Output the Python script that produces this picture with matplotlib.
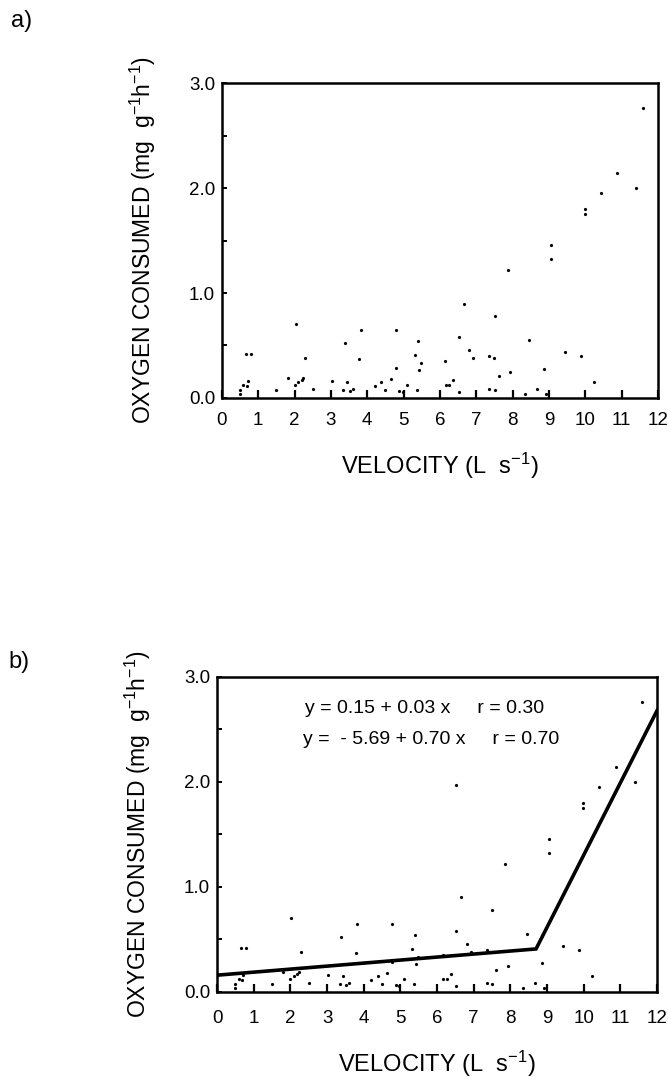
import numpy as np
import matplotlib
matplotlib.use("Agg")
import matplotlib.pyplot as plt
from matplotlib.ticker import MultipleLocator

plt.rcParams['font.family'] = ['Liberation Sans', 'DejaVu Sans']
plt.rcParams['mathtext.fontset'] = 'custom'
plt.rcParams['mathtext.rm'] = 'Liberation Sans'
plt.rcParams['mathtext.it'] = 'Liberation Sans:italic'
plt.rcParams['mathtext.bf'] = 'Liberation Sans:bold'

# swimming velocity (L/s) vs oxygen consumed
velocity = [0.50, 0.50, 0.59, 0.68, 0.72, 0.65, 0.79, 1.49, 1.81, 2.00,
            2.10, 2.19, 2.24, 2.03, 2.29, 2.51, 3.02, 3.34, 3.43, 3.52,
            3.61, 3.39, 3.78, 3.83, 4.21, 4.38, 4.49, 4.64, 4.78, 4.78,
            4.88, 4.97, 5.10, 5.32, 5.39, 5.43, 5.49, 5.38, 6.15, 6.16,
            6.26, 6.37, 6.53, 6.52, 6.65, 6.81, 6.92, 7.35, 7.35, 7.50,
            7.51, 7.51, 7.62, 7.86, 7.94, 8.34, 8.45, 8.66, 8.87, 8.91,
            9.06, 9.06, 9.44, 9.87, 9.99, 9.99, 10.23, 10.43, 10.87, 11.39,
            11.60]
oxygen = [0.08, 0.04, 0.12, 0.11, 0.16, 0.42, 0.42, 0.08, 0.19, 0.12,
          0.15, 0.17, 0.19, 0.70, 0.38, 0.09, 0.16, 0.08, 0.15, 0.07,
          0.09, 0.52, 0.37, 0.65, 0.11, 0.15, 0.08, 0.18, 0.29, 0.65,
          0.07, 0.06, 0.12, 0.41, 0.54, 0.27, 0.33, 0.08, 0.35, 0.12,
          0.12, 0.17, 0.06, 0.58, 0.90, 0.46, 0.38, 0.09, 0.40, 0.38,
          0.78, 0.08, 0.21, 1.22, 0.25, 0.04, 0.55, 0.09, 0.28, 0.04,
          1.46, 1.32, 0.44, 0.40, 1.80, 1.75, 0.15, 1.95, 2.14, 2.00,
          2.76]

# one point only shows up in panel b
velocity_b_extra = [6.52]
oxygen_b_extra = [1.97]

# broken-stick fit drawn in panel b (vertices)
fit_x = [0.0, 8.7, 12.0]
fit_y = [0.16, 0.41, 2.68]

eq_text = ["y = 0.15 + 0.03 x     r = 0.30",
           "y =  - 5.69 + 0.70 x     r = 0.70"]

xticks = np.arange(0, 13, 1)
yticks = [0.0, 1.0, 2.0, 3.0]
ytick_labels = ["0.0", "1.0", "2.0", "3.0"]

fig = plt.figure(figsize=(6.68, 10.78), dpi=100)
ax_a = fig.add_axes([0.3323, 0.6308, 0.6527, 0.2922])
ax_b = fig.add_axes([0.3249, 0.0798, 0.6587, 0.2922])


def style_axes(ax, xpad):
    ax.set_xlim(0, 12)
    ax.set_ylim(0, 3)
    ax.set_xticks(xticks)
    ax.set_xticklabels([str(t) for t in xticks])
    ax.set_yticks(yticks)
    ax.set_yticklabels(ytick_labels)
    ax.yaxis.set_minor_locator(MultipleLocator(0.5))
    ax.tick_params(axis='x', direction='in', length=6, width=1.6,
                   labelsize=13.5, pad=xpad, top=False)
    ax.tick_params(axis='y', which='both', direction='in', length=3.5,
                   width=1.4, labelsize=13.5, pad=5, right=False)
    for sp in ax.spines.values():
        sp.set_linewidth(1.8)
    ax.set_xlabel("VELOCITY (L  s$^{-1}$)", fontsize=17, labelpad=16)
    ax.set_ylabel("OXYGEN CONSUMED (mg  g$^{-1}$h$^{-1}$)", fontsize=16.5,
                  labelpad=22)


ax_a.plot(velocity, oxygen, 'o', color='black', ms=2.3, mec='none')
style_axes(ax_a, 10)

ax_b.plot(velocity, oxygen, 'o', color='black', ms=2.3, mec='none')
ax_b.plot(velocity_b_extra, oxygen_b_extra, 'o', color='black', ms=2.3,
          mec='none')
ax_b.plot(fit_x, fit_y, color='black', lw=2.6, solid_joinstyle='miter')
ax_b.text(2.4, 2.70, eq_text[0], fontsize=14, ha='left', va='center')
ax_b.text(2.35, 2.40, eq_text[1], fontsize=14, ha='left', va='center')
style_axes(ax_b, 13)

fig.text(22 / 668, 1 - 21 / 1078, "a)", fontsize=17, ha='center',
         va='center')
fig.text(19 / 668, 1 - 662 / 1078, "b)", fontsize=17, ha='center',
         va='center')

fig.savefig("out.png", dpi=100)
